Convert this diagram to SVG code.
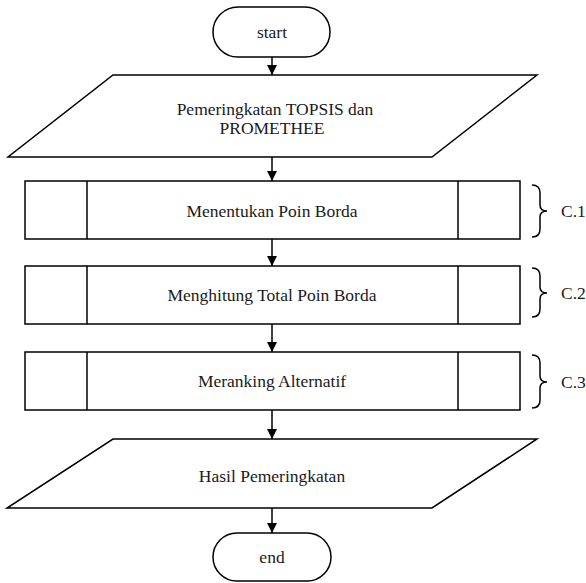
<svg xmlns="http://www.w3.org/2000/svg" width="586" height="583" viewBox="0 0 586 583">
  <style>
    .shape { fill: #fff; stroke: #000; stroke-width: 1.5; }
    .line { fill: none; stroke: #000; stroke-width: 1.5; }
    .label { font-family: 'Liberation Serif', 'DejaVu Serif', serif; font-size: 17.5px; fill: #1a1a1a; text-anchor: middle; }
    .tag { font-family: 'Liberation Serif', 'DejaVu Serif', serif; font-size: 17.5px; fill: #1a1a1a; }
  </style>
  <defs>
    <marker id="arrow" viewBox="0 0 10 10" refX="10" refY="5" markerWidth="10" markerHeight="10" markerUnits="userSpaceOnUse" orient="auto">
      <path d="M0,0 L10,5 L0,10 Z" fill="#000"/>
    </marker>
  </defs>
  <rect width="586" height="583" fill="#fff"/>

  <g id="connectors">
    <line class="line" x1="272" y1="57" x2="272" y2="75" marker-end="url(#arrow)"/>
    <line class="line" x1="272" y1="157" x2="272" y2="181" marker-end="url(#arrow)"/>
    <line class="line" x1="272" y1="239" x2="272" y2="266" marker-end="url(#arrow)"/>
    <line class="line" x1="272" y1="324" x2="272" y2="352" marker-end="url(#arrow)"/>
    <line class="line" x1="272" y1="410" x2="272" y2="439" marker-end="url(#arrow)"/>
    <line class="line" x1="272" y1="508" x2="272" y2="533" marker-end="url(#arrow)"/>
  </g>

  <g id="start">
    <rect class="shape" x="213" y="7" width="117" height="50" rx="25" ry="25"/>
    <text class="label" x="272" y="38">start</text>
  </g>

  <g id="input">
    <polygon class="shape" points="113,75 537,75 432,157 8,157"/>
    <text class="label" x="275" y="115">Pemeringkatan TOPSIS dan</text>
    <text class="label" x="272" y="134">PROMETHEE</text>
  </g>

  <g id="c1">
    <rect class="shape" x="25" y="181" width="495" height="58"/>
    <line class="line" x1="87" y1="181" x2="87" y2="239"/>
    <line class="line" x1="458" y1="181" x2="458" y2="239"/>
    <text class="label" x="272" y="217">Menentukan Poin Borda</text>
    <path class="line" d="M532,185 Q540,185 540,193 L540,205 Q540,211 547,211 Q540,211 540,217 L540,229 Q540,237 532,237"/>
    <text class="tag" x="561" y="217">C.1</text>
  </g>

  <g id="c2">
    <rect class="shape" x="25" y="266" width="495" height="58"/>
    <line class="line" x1="87" y1="266" x2="87" y2="324"/>
    <line class="line" x1="458" y1="266" x2="458" y2="324"/>
    <text class="label" x="272" y="301">Menghitung Total Poin Borda</text>
    <path class="line" d="M532,268 Q540,268 540,276 L540,287 Q540,293 547,293 Q540,293 540,299 L540,309 Q540,317 532,317"/>
    <text class="tag" x="561" y="299">C.2</text>
  </g>

  <g id="c3">
    <rect class="shape" x="25" y="352" width="495" height="58"/>
    <line class="line" x1="87" y1="352" x2="87" y2="410"/>
    <line class="line" x1="458" y1="352" x2="458" y2="410"/>
    <text class="label" x="272" y="387">Meranking Alternatif</text>
    <path class="line" d="M532,355 Q540,355 540,363 L540,376 Q540,382 547,382 Q540,382 540,388 L540,400 Q540,408 532,408"/>
    <text class="tag" x="561" y="388">C.3</text>
  </g>

  <g id="output">
    <polygon class="shape" points="113,439 537,439 432,508 7,508"/>
    <text class="label" x="272" y="482">Hasil Pemeringkatan</text>
  </g>

  <g id="end">
    <rect class="shape" x="213" y="533" width="118" height="48" rx="24" ry="24"/>
    <text class="label" x="272" y="563">end</text>
  </g>
</svg>
